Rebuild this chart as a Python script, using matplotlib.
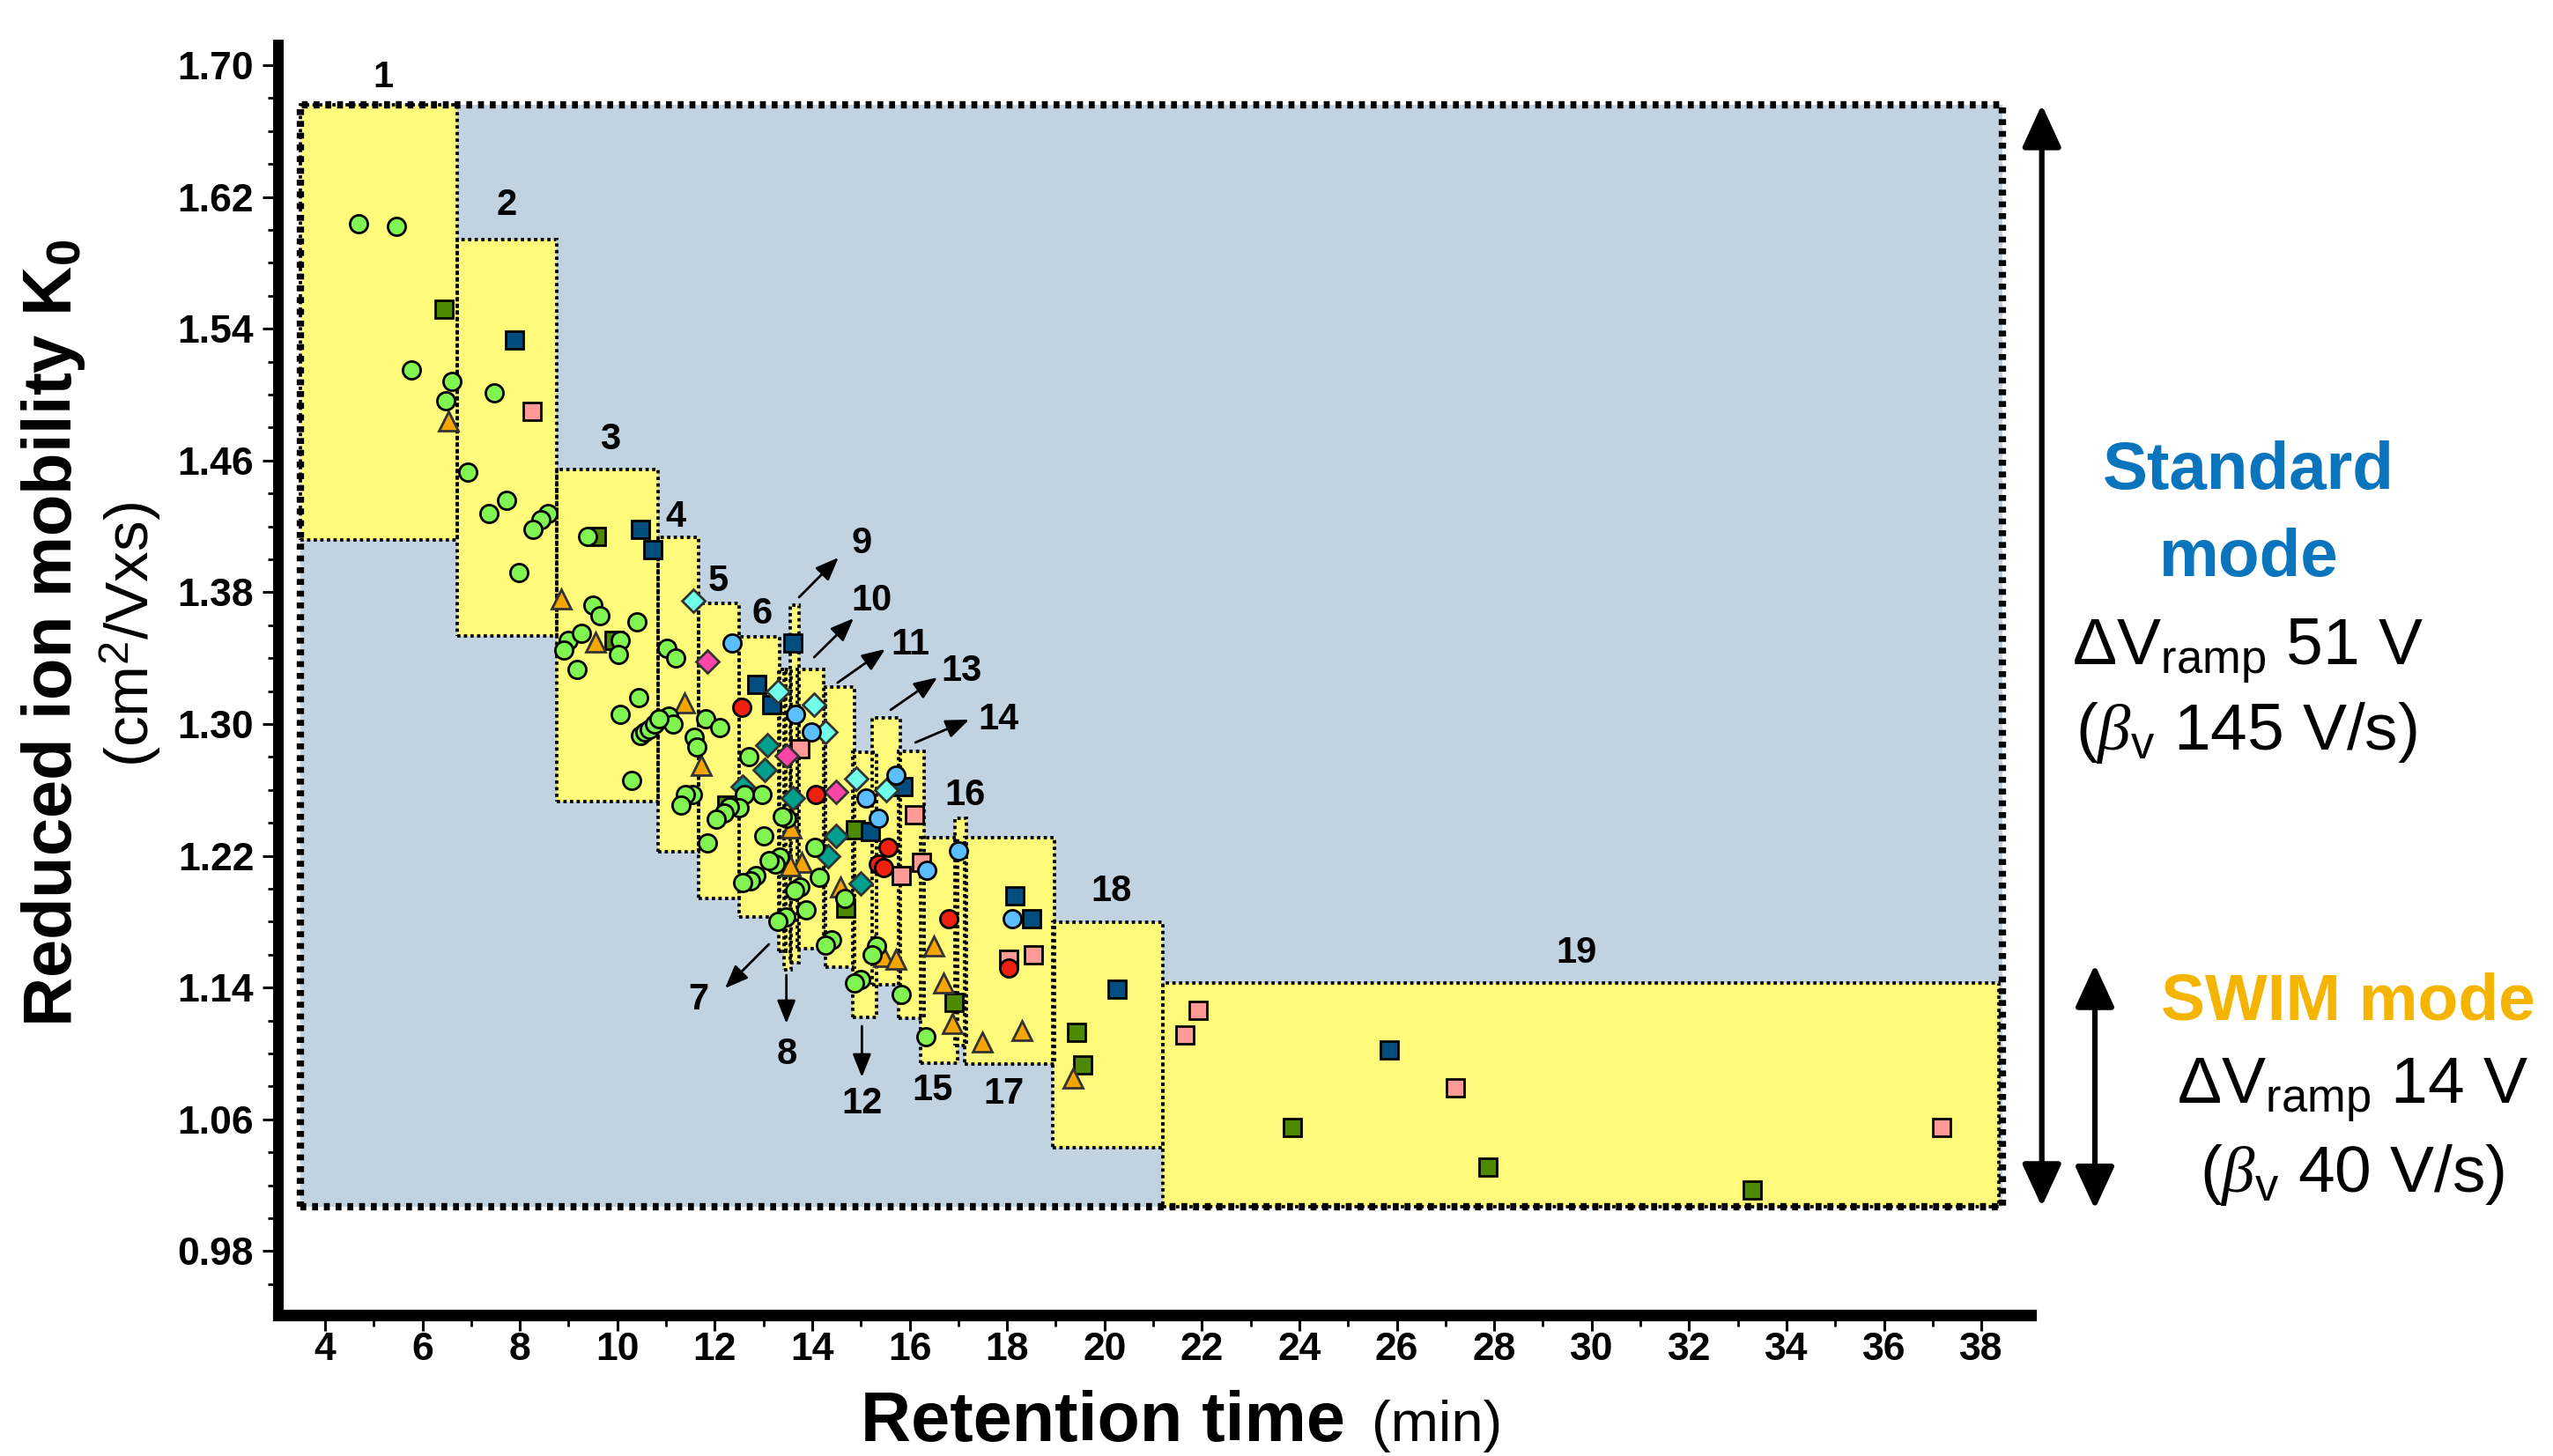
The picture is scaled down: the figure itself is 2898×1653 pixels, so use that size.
import numpy as np
import matplotlib.pyplot as plt
from matplotlib.patches import Rectangle
from matplotlib.ticker import FixedLocator, MultipleLocator

plt.rcParams['font.family'] = 'Liberation Sans'
plt.rcParams['mathtext.fontset'] = 'custom'
plt.rcParams['mathtext.rm'] = 'Liberation Sans'
plt.rcParams['mathtext.bf'] = 'Liberation Sans:bold'
plt.rcParams['mathtext.it'] = 'Liberation Serif:italic'

# ---------------- data (retention time [min], K0 [cm2/Vs]) ----------------
green_t = [4.69, 5.46, 5.77, 6.60, 6.47, 7.48, 6.93, 7.72, 7.37, 8.58, 8.43, 8.27, 7.98,
           9.39, 9.50, 9.64, 10.40, 8.99, 9.26, 8.91, 10.06, 10.03, 9.17, 11.01, 11.20,
           10.44, 10.06, 11.05, 11.14, 10.47, 10.56, 10.65, 10.76, 10.85, 11.82, 12.10,
           11.58, 11.64, 12.69, 12.97, 12.60, 12.50, 12.30, 12.19, 12.03, 11.55, 11.40,
           11.31, 13.48, 13.39, 10.29, 11.85, 13.00, 14.05, 13.33, 13.24, 13.12, 12.85,
           12.73, 12.58, 14.14, 13.75, 13.63, 14.67, 13.87, 13.45, 13.30, 14.39, 14.27,
           15.32, 15.23, 14.99, 14.87, 15.83, 16.33]
green_v = [1.604, 1.602, 1.515, 1.508, 1.496, 1.501, 1.453, 1.436, 1.428, 1.428, 1.424, 1.418, 1.392,
           1.414, 1.372, 1.366, 1.362, 1.351, 1.355, 1.345, 1.351, 1.342, 1.333, 1.346, 1.340,
           1.316, 1.306, 1.305, 1.300, 1.293, 1.295, 1.297, 1.300, 1.303, 1.303, 1.298,
           1.292, 1.286, 1.280, 1.257, 1.257, 1.249, 1.250, 1.246, 1.242, 1.257, 1.257,
           1.251, 1.243, 1.244, 1.266, 1.228, 1.232, 1.225, 1.219, 1.215, 1.217, 1.208,
           1.205, 1.204, 1.207, 1.201, 1.199, 1.194, 1.187, 1.183, 1.180, 1.169, 1.166,
           1.165, 1.160, 1.145, 1.143, 1.136, 1.110]

orange_t = [6.53, 8.84, 9.55, 11.38, 11.73, 13.57, 13.78, 13.54, 14.58, 15.28, 15.47,
            15.72, 16.50, 16.69, 16.88, 18.30, 17.49, 19.36]
orange_v = [1.484, 1.376, 1.350, 1.313, 1.275, 1.237, 1.216, 1.214, 1.201, 1.166, 1.159,
            1.157, 1.165, 1.143, 1.118, 1.114, 1.107, 1.085]

dkgreen_t = [6.44, 9.57, 9.93, 12.25, 14.88, 14.69, 16.92, 19.42, 19.55, 23.86, 27.87, 33.29]
dkgreen_v = [1.552, 1.414, 1.351, 1.251, 1.236, 1.188, 1.131, 1.113, 1.093, 1.055, 1.031, 1.017]

dkblue_t = [7.89, 10.48, 10.73, 13.61, 12.87, 13.17, 15.86, 15.20, 18.16, 18.50, 20.26, 25.84]
dkblue_v = [1.533, 1.418, 1.406, 1.349, 1.324, 1.312, 1.262, 1.235, 1.196, 1.182, 1.139, 1.102]

pink_t = [8.25, 13.75, 16.10, 15.82, 16.25, 18.54, 18.03, 21.93, 21.65, 27.21, 37.18]
pink_v = [1.490, 1.285, 1.245, 1.208, 1.216, 1.160, 1.157, 1.126, 1.111, 1.079, 1.055]

ltblue_t = [12.35, 13.65, 13.98, 15.11, 15.36, 15.72, 16.35, 17.01, 18.10]
ltblue_v = [1.349, 1.306, 1.295, 1.255, 1.243, 1.269, 1.211, 1.223, 1.182]

red_t = [12.56, 14.08, 15.56, 15.35, 15.47, 16.80, 18.03]
red_v = [1.310, 1.257, 1.225, 1.215, 1.213, 1.182, 1.152]

cyan_t = [11.56, 13.30, 14.04, 14.27, 14.90, 15.52]
cyan_v = [1.375, 1.320, 1.312, 1.295, 1.267, 1.260]

magenta_t = [11.84, 13.48, 14.48]
magenta_v = [1.338, 1.281, 1.259]

teal_t = [13.07, 13.03, 12.57, 13.60, 14.48, 14.33, 14.99]
teal_v = [1.287, 1.272, 1.262, 1.255, 1.232, 1.220, 1.203]

# time windows (yellow boxes 1..19)
win_t0 = [3.50, 6.71, 8.76, 10.84, 11.67, 12.50, 13.31, 13.42, 13.55, 13.69,
          14.27, 14.83, 15.23, 15.77, 16.22, 16.93, 17.13, 18.94, 21.20]
win_t1 = [6.71, 8.76, 10.84, 11.67, 12.50, 13.33, 13.46, 13.57, 13.73, 14.24,
          14.87, 15.32, 15.81, 16.30, 16.98, 17.16, 18.97, 21.20, 38.36]
win_v0 = [1.412, 1.3535, 1.253, 1.2225, 1.194, 1.183, 1.162, 1.151, 1.155, 1.1636,
          1.1524, 1.122, 1.1417, 1.1214, 1.094, 1.105, 1.0936, 1.0428, 1.007]
win_v1 = [1.676, 1.594, 1.4545, 1.4134, 1.3733, 1.353, 1.333, 1.333, 1.372, 1.333,
          1.3225, 1.283, 1.3037, 1.2834, 1.231, 1.2428, 1.231, 1.1797, 1.1428]
win_lab_t = [5.19, 7.73, 9.86, 11.20, 12.07, 12.97, 11.67, 13.48, 15.01, 15.23,
             16.01, 15.03, 17.07, 17.82, 16.46, 17.13, 17.94, 20.15, 29.68]
win_lab_v = [1.6925, 1.615, 1.4727, 1.4257, 1.3866, 1.3668, 1.1326, 1.0995, 1.4096, 1.3749,
             1.3481, 1.0695, 1.3321, 1.3027, 1.0775, 1.2567, 1.0754, 1.1984, 1.161]

# pointer arrows for the narrow windows
arr_from_t = [13.11, 13.47, 13.73, 14.04, 14.52, 15.02, 15.61, 16.12]
arr_from_v = [1.1663, 1.1476, 1.377, 1.3406, 1.3251, 1.1166, 1.3086, 1.2888]
arr_to_t = [12.21, 13.47, 14.54, 14.85, 15.50, 15.02, 16.57, 17.22]
arr_to_v = [1.1396, 1.1182, 1.4011, 1.3642, 1.3455, 1.0856, 1.3283, 1.3027]

full_t = (3.50, 38.43)
full_v = (1.007, 1.676)
swim_v = (1.0055, 1.154)

x_major = list(range(4, 39, 2))
x_minor = list(range(5, 38, 2))
y_major = [0.98, 1.06, 1.14, 1.22, 1.30, 1.38, 1.46, 1.54, 1.62, 1.70]

BG_BLUE = '#C1D3E1'
YELLOW = '#FFFA7A'

# ---------------- figure ----------------
W, H = 2898, 1653
fig = plt.figure(figsize=(W / 100, H / 100), dpi=100)
ax = fig.add_axes([316 / W, 1 - 1493 / H, (2305 - 316) / W, (1493 - 51) / H])

ax.add_patch(Rectangle((full_t[0], full_v[0]), full_t[1] - full_t[0], full_v[1] - full_v[0],
                       fc=BG_BLUE, ec='none', zorder=1))
for t0, t1, v0, v1 in zip(win_t0, win_t1, win_v0, win_v1):
    ax.add_patch(Rectangle((t0, v0), t1 - t0, v1 - v0, fc=YELLOW, ec='none', zorder=2))
for t0, t1, v0, v1 in zip(win_t0, win_t1, win_v0, win_v1):
    ax.add_patch(Rectangle((t0, v0), t1 - t0, v1 - v0, fill=False, ec='black', lw=2.7,
                           ls=(0, (1, 1.0)), zorder=3))
ax.add_patch(Rectangle((full_t[0], full_v[0]), full_t[1] - full_t[0], full_v[1] - full_v[0],
                       fill=False, ec='black', lw=6, ls=(0, (0.8, 0.8)), zorder=3.5))

series = [
    (dkgreen_t, dkgreen_v, 's', 15, '#4E8A00', 'black'),
    (dkblue_t, dkblue_v, 's', 15, '#004E80', 'black'),
    (pink_t, pink_v, 's', 15, '#FF9A96', 'black'),
    (orange_t, orange_v, '^', 16.5, '#F5A500', '#333333'),
    (teal_t, teal_v, 'D', 13.5, '#00A08F', '#333333'),
    (magenta_t, magenta_v, 'D', 13.5, '#FF45A8', '#333333'),
    (cyan_t, cyan_v, 'D', 13.5, '#70FFE8', '#333333'),
    (red_t, red_v, 'o', 14.5, '#EE2010', 'black'),
    (ltblue_t, ltblue_v, 'o', 14.5, '#5ABEFF', 'black'),
    (green_t, green_v, 'o', 14.5, '#80F450', 'black'),
]
for t, v, mk, ms, fc, ec in series:
    ax.plot(t, v, ls='none', marker=mk, ms=ms, mfc=fc, mec=ec, mew=2.0, zorder=5)

for i, (lt, lv) in enumerate(zip(win_lab_t, win_lab_v)):
    ax.text(lt, lv, str(i + 1), ha='center', va='center', fontsize=30,
            fontweight='bold', zorder=6)

for t0, v0, t1, v1 in zip(arr_from_t, arr_from_v, arr_to_t, arr_to_v):
    ax.annotate('', xy=(t1, v1), xytext=(t0, v0),
                arrowprops=dict(arrowstyle='-|>,head_length=0.8,head_width=0.32',
                                lw=2.0, color='black', shrinkA=0, shrinkB=0,
                                mutation_scale=20), zorder=6)

# mode ranges on the right
big = dict(arrowstyle='<|-|>,head_length=0.74,head_width=0.34', lw=4.5, color='black',
           shrinkA=0, shrinkB=0, mutation_scale=40)
ax.annotate('', xy=(39.24, full_v[1]), xytext=(39.24, full_v[0]), arrowprops=big,
            annotation_clip=False)
ax.annotate('', xy=(40.33, swim_v[1]), xytext=(40.33, swim_v[0]), arrowprops=big,
            annotation_clip=False)

# ---------------- axes styling ----------------
ax.set_xlim(3.042, 39.01)
ax.set_ylim(0.9412, 1.7123)
for s in ['top', 'right']:
    ax.spines[s].set_visible(False)
ax.spines['left'].set_linewidth(8.6)
ax.spines['bottom'].set_linewidth(9.5)
for s in ['left', 'bottom']:
    ax.spines[s].set_capstyle('projecting')
ax.set_xticks(x_major)
ax.xaxis.set_minor_locator(FixedLocator(x_minor))
ax.set_yticks(y_major)
ax.set_yticklabels([f"{y:.2f}" for y in y_major])
ax.yaxis.set_minor_locator(MultipleLocator(0.02))
ax.tick_params(which='major', length=13, width=2.2, labelsize=32)
ax.tick_params(which='minor', length=9, width=2.0)
ax.tick_params(axis='y', which='major', pad=7)
ax.tick_params(axis='x', which='major', pad=1)
for lab in ax.get_xticklabels() + ax.get_yticklabels():
    lab.set_fontweight('bold')

fig.text(61 / W, 1 - 719 / H, r"Reduced ion mobility K$_\mathbf{0}$", rotation=90,
         ha='center', va='center', fontsize=56, fontweight='bold')
fig.text(148 / W, 1 - 720 / H, r"(cm$^\mathregular{2}$/Vxs)", rotation=90,
         ha='center', va='center', fontsize=50)
fig.text(977 / W, 1 - 1636 / H, "Retention time", ha='left', va='baseline',
         fontsize=57, fontweight='bold')
fig.text(1557 / W, 1 - 1636 / H, "(min)", ha='left', va='baseline', fontsize=47)

BLUE_TXT = '#0A74BC'
GOLD_TXT = '#F4B400'
fig.text(2552 / W, 1 - 555 / H, "Standard", ha='center', va='baseline', fontsize=55,
         fontweight='bold', color=BLUE_TXT)
fig.text(2553 / W, 1 - 654 / H, "mode", ha='center', va='baseline', fontsize=55,
         fontweight='bold', color=BLUE_TXT)
fig.text(2551 / W, 1 - 755 / H, r"ΔV$_\mathregular{ramp}$ 51 V", ha='center', va='baseline',
         fontsize=54)
fig.text(2550 / W, 1 - 851 / H, r"($\beta_\mathregular{v}$ 145 V/s)", ha='center',
         va='baseline', fontsize=54)
fig.text(2665 / W, 1 - 1157 / H, "SWIM mode", ha='center', va='baseline', fontsize=54,
         fontweight='bold', color=GOLD_TXT)
fig.text(2670 / W, 1 - 1253 / H, r"ΔV$_\mathregular{ramp}$ 14 V", ha='center', va='baseline',
         fontsize=54)
fig.text(2670 / W, 1 - 1353 / H, r"($\beta_\mathregular{v}$ 40 V/s)", ha='center',
         va='baseline', fontsize=54)

fig.savefig('out.png', dpi=100)
